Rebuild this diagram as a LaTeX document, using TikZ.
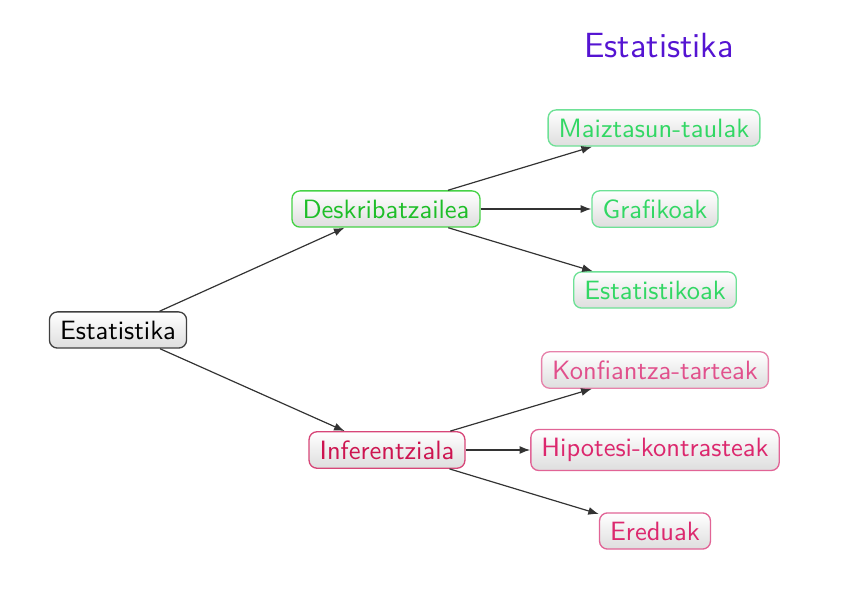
\documentclass[tikz,border=0pt]{standalone}
\usetikzlibrary{arrows.meta,shadings}
\renewcommand{\familydefault}{\sfdefault}
\definecolor{titlepurple}{RGB}{85,20,210}
\definecolor{descgreen}{RGB}{30,190,40}
\definecolor{descborder}{RGB}{70,210,70}
\definecolor{leafgreen}{RGB}{50,215,100}
\definecolor{leafgreenb}{RGB}{110,225,150}
\definecolor{infred}{RGB}{205,20,80}
\definecolor{infborder}{RGB}{215,70,120}
\definecolor{leafpink}{RGB}{225,80,140}
\definecolor{leafpinkb}{RGB}{230,130,170}
\definecolor{leafrose}{RGB}{220,40,110}
\definecolor{leafroseb}{RGB}{225,100,150}
\tikzset{
  box/.style={draw, rounded corners=3pt, top color=white, bottom color=black!13,
    inner xsep=4pt, inner ysep=3.3pt, font=\sffamily\fontsize{10}{12}\selectfont, line width=0.5pt},
  rootbox/.style={box, draw=black!75, text=black},
  descbox/.style={box, draw=descborder, text=descgreen},
  leafg/.style={box, draw=leafgreenb, text=leafgreen},
  infbox/.style={box, draw=infborder, text=infred},
  leafp/.style={box, draw=leafpinkb, text=leafpink},
  leafr/.style={box, draw=leafroseb, text=leafrose},
  conn/.style={draw=black!80, line width=0.45pt, -{Latex[length=4pt,width=3pt]}}
}
\begin{document}
\begin{tikzpicture}[x=0.3774pt,y=-0.3774pt]
\useasboundingbox (0,0) rectangle (862,602);
\node[text=titlepurple, font=\sffamily\fontsize{13.2}{15}\selectfont] (title) at (659,46) {Estatistika};
\node[rootbox] (root) at (118,330) {Estatistika};
\node[descbox] (desk) at (386,209) {Deskribatzailea};
\node[infbox] (inf) at (387,450) {Inferentziala};
\node[leafg] (maiz) at (654,128) {Maiztasun-taulak};
\node[leafg] (graf) at (655,209) {Grafikoak};
\node[leafg] (estk) at (655,290) {Estatistikoak};
\node[leafp] (konf) at (655,370) {Konfiantza-tarteak};
\node[leafr] (hipo) at (655,450) {Hipotesi-kontrasteak};
\node[leafr] (ered) at (655,531) {Ereduak};
\draw[conn] (root) -- (desk);
\draw[conn] (root) -- (inf);
\draw[conn] (desk) -- (maiz);
\draw[conn] (desk) -- (graf);
\draw[conn] (desk) -- (estk);
\draw[conn] (inf) -- (konf);
\draw[conn] (inf) -- (hipo);
\draw[conn] (inf) -- (ered);
\end{tikzpicture}
\end{document}
